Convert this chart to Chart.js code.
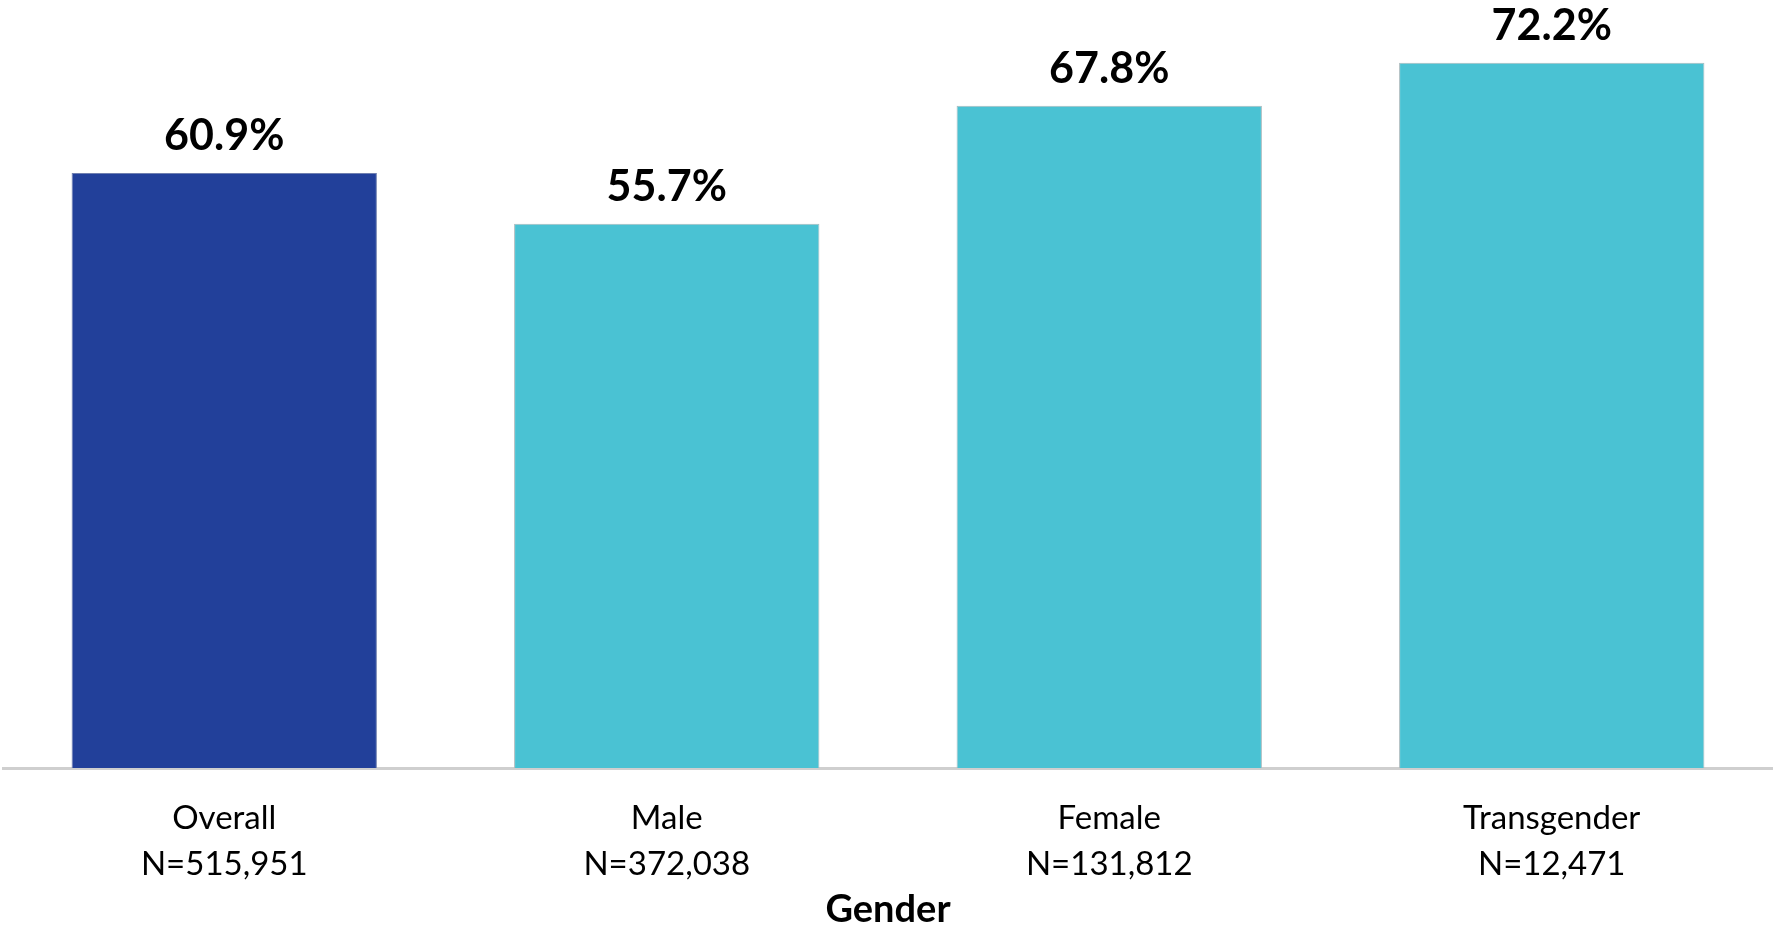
<!DOCTYPE html>
<html>
<head>
<meta charset="utf-8">
<script src="https://cdn.jsdelivr.net/npm/chart.js@4.4.1/dist/chart.umd.min.js"></script>
<style>
  html, body { margin: 0; padding: 0; background: #fff; }
  #wrap { width: 1773px; height: 926px; position: relative; }
</style>
</head>
<body>
<div id="wrap"><canvas id="genderChart"></canvas></div>
<script>
const categories = ["Overall", "Male", "Female", "Transgender"];
const sampleSizes = ["N=515,951", "N=372,038", "N=131,812", "N=12,471"];
const percentages = [60.9, 55.7, 67.8, 72.2];
const barColours = ["#22409a", "#4ac2d3", "#4ac2d3", "#4ac2d3"];
const borderColours = ["#6f7fb0", "#a9b9bd", "#a9b9bd", "#a9b9bd"];

// value labels above each bar
const valueLabels = {
  id: "valueLabels",
  afterDatasetsDraw(chart) {
    const ctx = chart.ctx;
    const meta = chart.getDatasetMeta(0);
    ctx.save();
    ctx.font = "bold 43px Lato";
    ctx.fillStyle = "#000";
    ctx.textAlign = "center";
    ctx.textBaseline = "alphabetic";
    meta.data.forEach(function (bar, i) {
      ctx.fillText(`${percentages[i].toFixed(1)}%`, bar.x, bar.y - 23);
    });
    ctx.restore();
  },
};

new Chart("genderChart", {
  type: "bar",
  data: {
    labels: categories.map((c, i) => [c, sampleSizes[i]]),
    datasets: [
      {
        data: percentages,
        backgroundColor: barColours,
        borderColor: borderColours,
        borderWidth: 1,
        categoryPercentage: 1,
        barPercentage: 0.69,
      },
    ],
  },
  options: {
    responsive: true,
    maintainAspectRatio: false,
    animation: false,
    layout: { padding: { left: 3, right: 0, top: 6, bottom: 0 } },
    plugins: {
      legend: { display: false },
      tooltip: { enabled: false },
    },
    scales: {
      y: {
        display: false,
        min: 0,
        max: 78,
      },
      x: {
        grid: { display: false, drawTicks: false },
        border: { display: true, color: "#cfcfcf", width: 3 },
        ticks: {
          color: "#000",
          font: { family: "Lato", size: 33, lineHeight: 1.38 },
          padding: 28,
        },
        title: {
          display: true,
          text: "Gender",
          color: "#000",
          font: { family: "Lato", size: 38, weight: "bold", lineHeight: 0.34 },
          padding: { top: -12, bottom: 10 },
        },
      },
    },
  },
  plugins: [valueLabels],
});
</script>
</body>
</html>
